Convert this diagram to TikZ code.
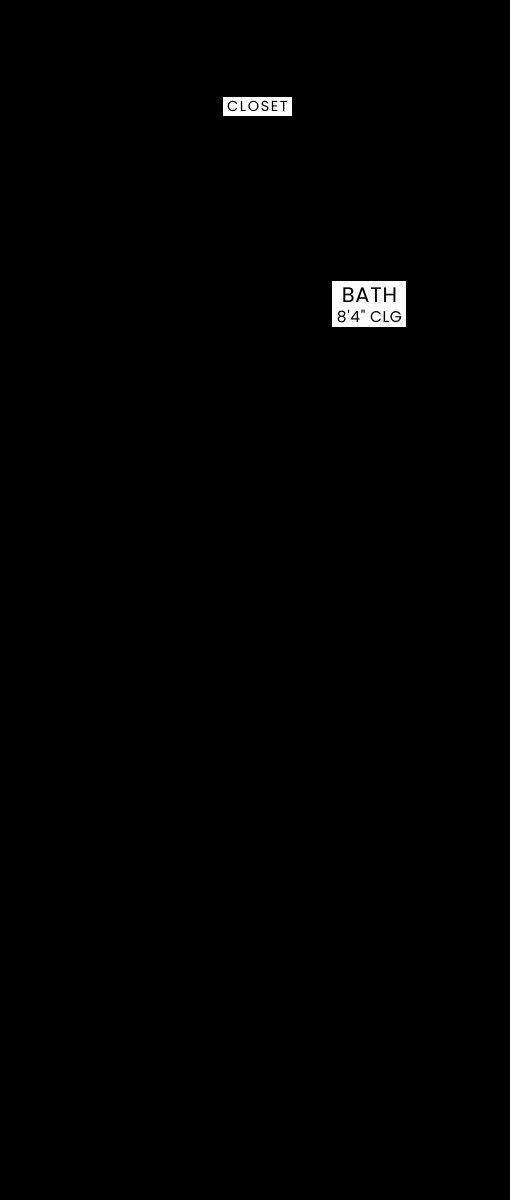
\documentclass[tikz,border=0pt]{standalone}
\usepackage{fontspec}
\setmainfont{Poppins}[Ligatures=TeXOff]
\begin{document}
\begin{tikzpicture}[x=1pt,y=-1pt,
  box/.style={fill=white,inner sep=0pt},
  txt/.style={text=black,inner sep=0pt,anchor=base}]
\fill[black] (0,0) rectangle (510,1200);
\useasboundingbox (0,0) rectangle (510,1200);
\node[box,minimum width=69pt,minimum height=19pt] (closetbox) at (257.5,106.5) {};
\node[txt,font=\fontsize{14.5pt}{16pt}\selectfont\addfontfeature{LetterSpace=11}] (closet) at (257.5,111.8) {CLOSET};
\node[box,minimum width=74pt,minimum height=46pt] (bathbox) at (369,304) {};
\node[txt,font=\fontsize{21pt}{24pt}\selectfont\addfontfeature{LetterSpace=4}] (bath) at (369.5,302) {BATH};
\node[txt,font=\fontsize{15.5pt}{17pt}\selectfont\addfontfeature{LetterSpace=4}] (clg) at (369.5,322) {8'4" CLG};
\end{tikzpicture}
\end{document}
